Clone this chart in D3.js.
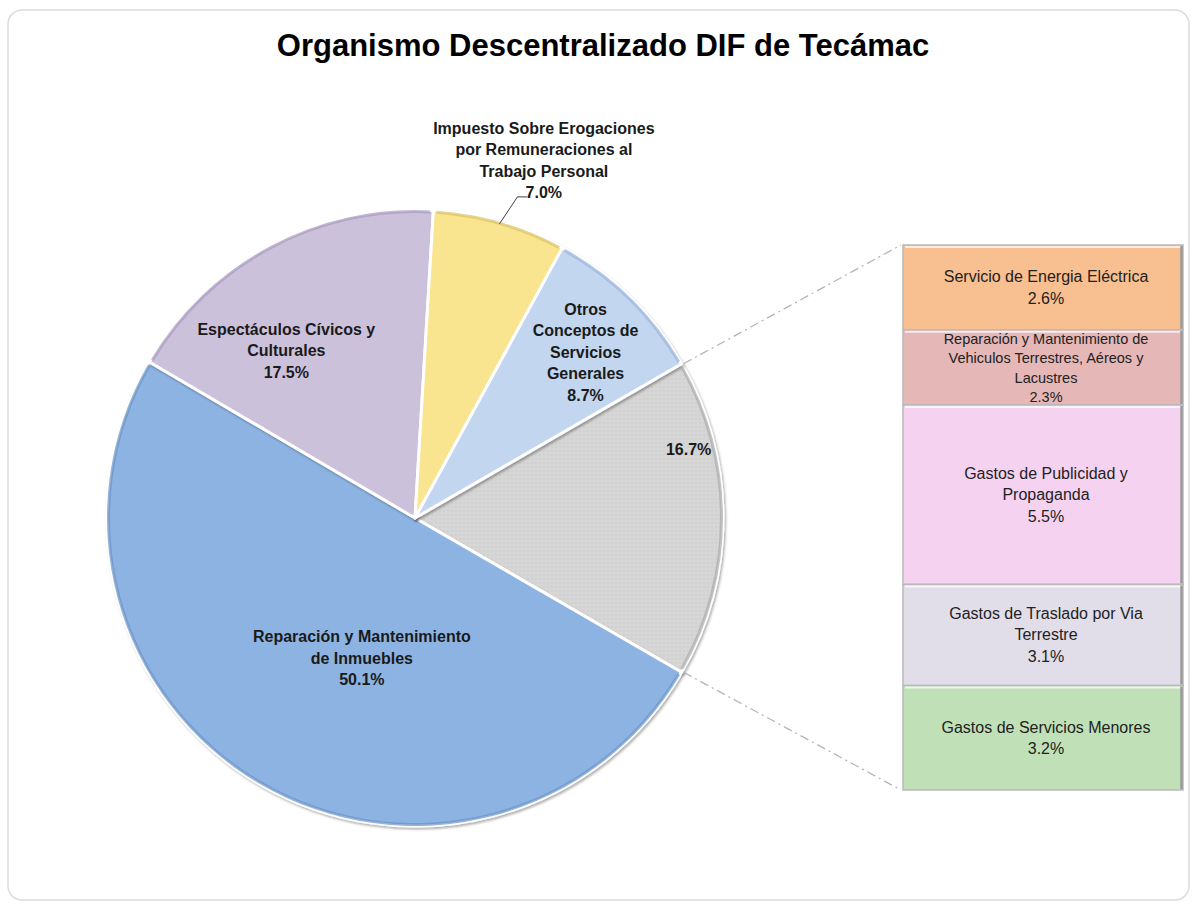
<!DOCTYPE html>
<html lang="es">
<head>
<meta charset="UTF-8">
<title>Organismo Descentralizado DIF de Tecámac</title>
<style>
  body { margin: 0; background: #fff; }
  svg { display: block; font-family: "Liberation Sans", Arial, sans-serif; }
  .pie-label { font-weight: bold; font-size: 16px; fill: #1a1a1a; }
  .bar-label { fill: #222; }
</style>
</head>
<body>
<svg id="chart" width="1195" height="905"></svg>
<script src="https://d3js.org/d3.v7.min.js"></script>
<script>
// pie slices, clockwise starting with the "other" slice that is broken out into the bar
const pieNames = ["Otros", "Reparación y Mantenimiento de Inmuebles", "Espectáculos Cívicos y Culturales",
  "Impuesto Sobre Erogaciones por Remuneraciones al Trabajo Personal", "Otros Conceptos de Servicios Generales"];
const pieValues = [16.7, 50.1, 17.5, 7.0, 8.7];
const pieLines = [
  [],
  ["Reparación y Mantenimiento", "de Inmuebles"],
  ["Espectáculos Cívicos y", "Culturales"],
  ["Impuesto Sobre Erogaciones", "por Remuneraciones al", "Trabajo Personal"],
  ["Otros", "Conceptos de", "Servicios", "Generales"]
];

// breakdown of the "other" slice, top to bottom
const barNames = ["Servicio de Energia Eléctrica", "Reparación y Mantenimiento de Vehiculos Terrestres, Aéreos y Lacustres",
  "Gastos de Publicidad y Propaganda", "Gastos de Traslado por Via Terrestre", "Gastos de Servicios Menores"];
const barValues = [2.6, 2.3, 5.5, 3.1, 3.2];
const barLines = [
  ["Servicio de Energia Eléctrica"],
  ["Reparación y Mantenimiento de", "Vehiculos Terrestres, Aéreos  y", "Lacustres"],
  ["Gastos de Publicidad y", "Propaganda"],
  ["Gastos de Traslado por Via", "Terrestre"],
  ["Gastos de Servicios Menores"]
];

const pieColors = ["#d6d6d6", "#8db3e2", "#ccc1da", "#f9e490", "#c3d6ef"];
const pieEdge = ["#a9a9a9", "#6a93c6", "#a898bd", "#d9c25f", "#95b1d8"];
const barColors = ["#f8bf90", "#e5b7b6", "#f6d2f1", "#e1dde9", "#c0e1b8"];
// label placement per slice: angle shift (deg) from the slice middle and distance from centre
const labelPlace = [[-14, 282], [-9.5, 150], [-9.5, 211], [3.8, 380], [1.5, 238]];

const fmt = d => d.toFixed(1) + "%";
const svg = d3.select("#chart");

// frame
svg.append("rect")
  .attr("x", 8).attr("y", 10).attr("width", 1181).attr("height", 890)
  .attr("rx", 14)
  .attr("fill", "#fff").attr("stroke", "#dcdcd8").attr("stroke-width", 1.5);

svg.append("text")
  .attr("x", 603).attr("y", 56)
  .attr("text-anchor", "middle")
  .attr("font-size", 31).attr("font-weight", "bold").attr("fill", "#000")
  .text("Organismo Descentralizado DIF de Tecámac");

const defs = svg.append("defs");
const pat = defs.append("pattern").attr("id", "dots")
  .attr("width", 4).attr("height", 4).attr("patternUnits", "userSpaceOnUse");
pat.append("rect").attr("width", 4).attr("height", 4).attr("fill", pieColors[0]);
pat.append("circle").attr("cx", 1).attr("cy", 1).attr("r", 0.8).attr("fill", "#c9c9c9");

const shadow = defs.append("filter").attr("id", "bevel")
  .attr("x", "-10%").attr("y", "-10%").attr("width", "120%").attr("height", "120%");
shadow.append("feDropShadow").attr("dx", 1.5).attr("dy", 2).attr("stdDeviation", 1.2)
  .attr("flood-color", "#000").attr("flood-opacity", 0.3);

// pie
const cx = 415, cy = 518, R = 308;
const total = d3.sum(pieValues);
const start = Math.PI / 2 - (pieValues[0] / total) * Math.PI;
const pie = d3.pie().sort(null).value(d => d)
  .startAngle(start).endAngle(start + 2 * Math.PI);
const arcs = pie(pieValues);
const arc = d3.arc().innerRadius(0).outerRadius(R);
const rim = d3.arc().innerRadius(R - 3).outerRadius(R);

const g = svg.append("g").attr("transform", `translate(${cx},${cy})`);

g.selectAll("path.slice")
  .data(arcs)
  .join("path")
  .attr("class", "slice")
  .attr("d", arc)
  .attr("fill", (d, i) => i === 0 ? "url(#dots)" : pieColors[i])
  .attr("stroke", "#fff").attr("stroke-width", 3)
  .attr("stroke-linejoin", "round")
  .attr("filter", "url(#bevel)");

g.selectAll("path.rim")
  .data(arcs)
  .join("path")
  .attr("class", "rim")
  .attr("d", d => rim({ startAngle: d.startAngle + 0.01, endAngle: d.endAngle - 0.01 }))
  .attr("fill", (d, i) => pieEdge[i])
  .attr("opacity", 0.7);

const polar = (a, r) => [Math.sin(a) * r, -Math.cos(a) * r];

arcs.forEach((d, i) => {
  const mid = (d.startAngle + d.endAngle) / 2 + labelPlace[i][0] * Math.PI / 180;
  const [lx, ly] = polar(mid, labelPlace[i][1]);
  const lines = pieLines[i].concat([fmt(pieValues[i])]);
  const lh = 21.5;
  const t = g.append("text")
    .attr("class", "pie-label")
    .attr("text-anchor", "middle")
    .attr("transform", `translate(${lx},${ly})`);
  lines.forEach((s, k) => {
    t.append("tspan").attr("x", 0)
      .attr("y", (k - (lines.length - 1) / 2) * lh + 5.5)
      .text(s);
  });
});

// leader line for the small outside label
{
  const d = arcs[3];
  const mid = (d.startAngle + d.endAngle) / 2;
  const p0 = polar(mid, R - 2);
  const p1 = [p0[0] + 18, p0[1] - 27];
  const p2 = [p1[0] + 10, p1[1]];
  g.append("polyline")
    .attr("points", [p0, p1, p2].map(p => p.join(",")).join(" "))
    .attr("fill", "none").attr("stroke", "#404040").attr("stroke-width", 1);
}

// bar of the "other" slice
const barX = 903, barW = 280;
const y = d3.scaleLinear().domain([0, d3.sum(barValues)]).range([245, 790]);
const cum = d3.cumsum([0].concat(barValues));

const bars = svg.append("g");
barValues.forEach((v, i) => {
  const y0 = y(cum[i]), y1 = y(cum[i + 1]);
  bars.append("rect")
    .attr("x", barX).attr("y", y0)
    .attr("width", barW).attr("height", y1 - y0)
    .attr("fill", barColors[i])
    .attr("stroke", "#b9b9b9").attr("stroke-width", 1.5);
  bars.append("line")
    .attr("x1", barX + 2).attr("x2", barX + barW - 2)
    .attr("y1", y0 + 2).attr("y2", y0 + 2)
    .attr("stroke", "#fff").attr("stroke-opacity", 0.7).attr("stroke-width", 2);
  bars.append("line")
    .attr("x1", barX + barW - 1.5).attr("x2", barX + barW - 1.5)
    .attr("y1", y0 + 1).attr("y2", y1 - 1)
    .attr("stroke", "#9a9a9a").attr("stroke-width", 2.5);

  const small = i === 1;
  const lh = small ? 19.3 : 21.5;
  const lines = barLines[i].concat([fmt(v)]);
  const t = bars.append("text")
    .attr("class", "bar-label")
    .attr("text-anchor", "middle")
    .attr("font-size", small ? 14.5 : 16)
    .attr("transform", `translate(${barX + barW / 2 + 3},${(y0 + y1) / 2})`);
  lines.forEach((s, k) => {
    t.append("tspan").attr("x", 0)
      .attr("y", (k - (lines.length - 1) / 2) * lh + 5.5)
      .text(s);
  });
});

// connectors from the "other" slice to the bar
const gTop = polar(arcs[0].startAngle, R), gBot = polar(arcs[0].endAngle, R);
[[gTop, y(0)], [gBot, y(d3.sum(barValues))]].forEach(([p, by]) => {
  svg.append("line")
    .attr("x1", cx + p[0] + 2).attr("y1", cy + p[1])
    .attr("x2", barX - 2).attr("y2", by)
    .attr("stroke", "#b5b5b5").attr("stroke-width", 1.3)
    .attr("stroke-dasharray", "9,4,2,4");
});
</script>
</body>
</html>
